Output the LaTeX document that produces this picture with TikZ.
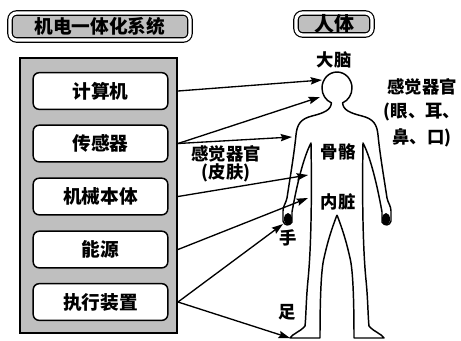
\documentclass[tikz,border=0pt]{standalone}
\usepackage{fontspec}
\setmainfont{Noto Sans CJK SC}
\usetikzlibrary{arrows.meta}
\tikzset{
  titlebox/.style={draw, line width=0.9pt, double=white, double distance=2.4pt,
    fill=gray!50, rounded corners=5pt, inner sep=0pt,
    font=\fontsize{14}{16}\selectfont\bfseries},
  unit/.style={draw, line width=1.1pt, fill=white, rounded corners=4.5pt,
    minimum width=101pt, minimum height=27.5pt, inner sep=0pt,
    font=\fontsize{14}{16}\selectfont\bfseries},
  lbl/.style={inner sep=0pt, align=center, font=\fontsize{13}{13.5}\selectfont\bfseries},
  link/.style={line width=1pt, -{Stealth[length=8.5pt, width=5.5pt, inset=1.2pt]}},
  outline/.style={line width=1.1pt, line join=round}
}

\begin{document}
\begin{tikzpicture}[x=0.75pt, y=-0.75pt]

  \useasboundingbox (0,0) rectangle (461,340);

  \node [titlebox, minimum width=135pt, minimum height=20.25pt] (systitle) at (100,26.5) {机电一体化系统};
  \node [titlebox, minimum width=57pt, minimum height=16.5pt, font=\fontsize{15}{16}\selectfont\bfseries] (bodytitle) at (334,24) {人体};

  \node [draw, line width=1.5pt, fill=gray!50, minimum width=117.75pt, minimum height=206.25pt] (sys) at (98.5,195.5) {};
  \foreach \name/\y/\text in {jsj/91/计算机, cgq/143.5/传感器, jxbt/196.5/机械本体, ny/249.5/能源, zxzz/302/执行装置} {
    \node [unit] (\name) at (100.5,\y) {\text};
  }

  % human figure, left half and its mirror image
  \foreach \s in {1,-1} {
    \begin{scope}[xshift={(1-\s)*252.75pt}, xscale=\s]
      \draw [outline] (337,72) arc [start angle=270, end angle=112, x radius=15, y radius=16]
        .. controls (331,110) and (324,113) .. (312,116)
        .. controls (300,119) and (297,125) .. (296,135)
        .. controls (294,155) and (290,178) .. (287,198)
        .. controls (286,203) and (283,206) .. (283,211)
        -- (283,221)
        .. controls (284,226) and (290,226) .. (292,222)
        -- (292,212)
        .. controls (295,195) and (302,160) .. (311,143)
        .. controls (312,200) and (311,250) .. (308,280)
        .. controls (306,300) and (306,318) .. (305,326)
        .. controls (300,332) and (292,334) .. (290,338)
        -- (320,338)
        .. controls (320,300) and (321,270) .. (324,258)
        .. controls (328,240) and (332,228) .. (337,215);
      \fill (288,219) ellipse [x radius=4, y radius=6];
    \end{scope}
  }

  \coordinate (brain1) at (322,80);
  \coordinate (brain2) at (320,97);
  \coordinate (skin) at (292,137);
  \coordinate (bone) at (308,175);
  \coordinate (organ) at (308,198);
  \coordinate (hand) at (283,224);
  \coordinate (foot) at (290,338);

  \node [lbl] (brain) at (334,60) {大脑};
  \node [lbl] (senses) at (422,113) {感觉器官\\[4.5pt](眼、耳、\\[4.5pt]鼻、口)};
  \node [lbl] (skintext) at (226,164) {感觉器官\\(皮肤)};
  \node [lbl] (bones) at (338,152) {骨骼};
  \node [lbl] (organs) at (338,202) {内脏};
  \node [lbl] (handtext) at (288,238) {手};
  \node [lbl] (foottext) at (287,312) {足};

  \draw [link] (jsj.east -| sys.east) -- (brain1);
  \draw [link] (cgq.east -| sys.east) -- (brain2);
  \draw [link] (cgq.east -| sys.east) -- (skin);
  \draw [link] (jxbt.east -| sys.east) -- (bone);
  \draw [link] (ny.east -| sys.east) -- (organ);
  \draw [link] (zxzz.east -| sys.east) -- (hand);
  \draw [link] (zxzz.east -| sys.east) -- (foot);

\end{tikzpicture}
\end{document}
